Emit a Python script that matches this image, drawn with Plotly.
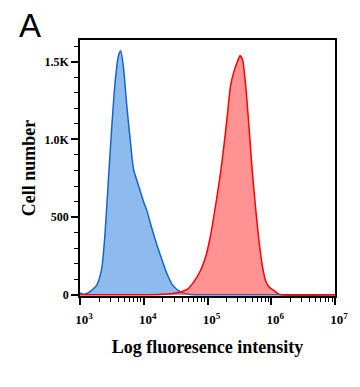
import numpy as np
import plotly.graph_objects as go

# log10(fluorescence intensity) and cell counts
blue_log_intensity = [3.0, 3.05, 3.10, 3.157, 3.26, 3.34, 3.39, 3.446, 3.499, 3.55, 3.60, 3.64,
                      3.68, 3.735, 3.787, 3.84, 3.92, 4.0, 4.05, 4.13, 4.21, 4.29, 4.365,
                      4.44, 4.52, 4.62, 4.73, 5.0, 6.0, 7.0]
blue_counts = [12, 4, 6, 20, 60, 167, 380, 744, 1085, 1363, 1534, 1570,
               1470, 1213, 1000, 808, 700, 596, 540, 423, 316, 220, 135,
               70, 34, 12, 2, 0, 0, 0]

red_log_intensity = [3.0, 4.0, 4.3, 4.45, 4.575, 4.68, 4.785, 4.89, 4.97, 5.047, 5.126, 5.205,
                     5.257, 5.31, 5.36, 5.415, 5.47, 5.51, 5.55, 5.60, 5.65, 5.70, 5.756,
                     5.81, 5.86, 5.91, 5.97, 6.04, 6.12, 7.0]
red_counts = [0, 0, 3, 8, 18, 34, 83, 156, 243, 380, 573, 786,
              957, 1150, 1342, 1438, 1502, 1538, 1513, 1342, 1085, 808, 551,
              338, 188, 92, 49, 28, 3, 0]

x_major = [1e3, 1e4, 1e5, 1e6, 1e7]
x_major_text = ["<b>10<sup>3</sup></b>", "<b>10<sup>4</sup></b>", "<b>10<sup>5</sup></b>",
                "<b>10<sup>6</sup></b>", "<b>10<sup>7</sup></b>"]
y_major = [0, 500, 1000, 1500]
y_major_text = ["<b>0</b>", "<b>500</b>", "<b>1.0K</b>", "<b>1.5K</b>"]

x_minor = [k * 10 ** n for n in range(3, 7) for k in range(2, 10)]
y_minor = list(range(0, 1700, 100))

serif = "Liberation Serif, Times New Roman, serif"

fig = go.Figure()
fig.add_trace(go.Scatter(
    x=10 ** np.array(blue_log_intensity), y=blue_counts, mode="lines",
    line=dict(color="#1565c8", width=1.5, shape="spline", smoothing=0.6),
    fill="tozeroy", fillcolor="rgba(30,120,220,0.5)", showlegend=False))
fig.add_trace(go.Scatter(
    x=10 ** np.array(red_log_intensity), y=red_counts, mode="lines",
    line=dict(color="#ff0000", width=1.5, shape="spline", smoothing=0.6),
    fill="tozeroy", fillcolor="rgba(255,40,40,0.5)", showlegend=False))

fig.update_layout(
    width=360, height=387,
    margin=dict(l=80, r=25, t=40, b=91, autoexpand=False),
    paper_bgcolor="white", plot_bgcolor="white",
    font=dict(family=serif, color="black"),
)
fig.add_annotation(text="A", xref="paper", yref="paper",
                   x=-63 / 255, y=1 + 15 / 256, xanchor="left", yanchor="middle",
                   showarrow=False, font=dict(family="Liberation Sans, Arial, sans-serif", size=33, color="black"))

fig.update_xaxes(
    type="log", range=[3, 7],
    showline=True, linecolor="black", linewidth=1.5, mirror=True,
    showgrid=False, zeroline=False,
    tickvals=x_major, ticktext=x_major_text,
    ticks="outside", ticklen=7, tickwidth=1.5, tickcolor="black",
    ticklabelstandoff=4, ticklabelshift=4,
    tickfont=dict(family=serif, size=13, color="black"),
    minor=dict(tickvals=x_minor, ticks="outside", ticklen=4, tickwidth=1, tickcolor="black", showgrid=False),
    title=dict(text="<b>Log fluoresence intensity</b>", font=dict(family=serif, size=18, color="black"), standoff=14),
)
fig.update_yaxes(
    range=[-8, 1640],
    showline=True, linecolor="black", linewidth=1.5, mirror=True,
    showgrid=False, zeroline=False,
    tickvals=y_major, ticktext=y_major_text,
    ticks="outside", ticklen=7, tickwidth=1.5, tickcolor="black",
    tickfont=dict(family=serif, size=12, color="black"),
    minor=dict(tickvals=y_minor, ticks="outside", ticklen=4, tickwidth=1, tickcolor="black", showgrid=False),
    title=dict(text="<b>Cell number</b>", font=dict(family=serif, size=18, color="black"), standoff=4),
)

fig.write_html("out.html", config={"displayModeBar": False},
               post_script="document.body.style.margin='0';")
